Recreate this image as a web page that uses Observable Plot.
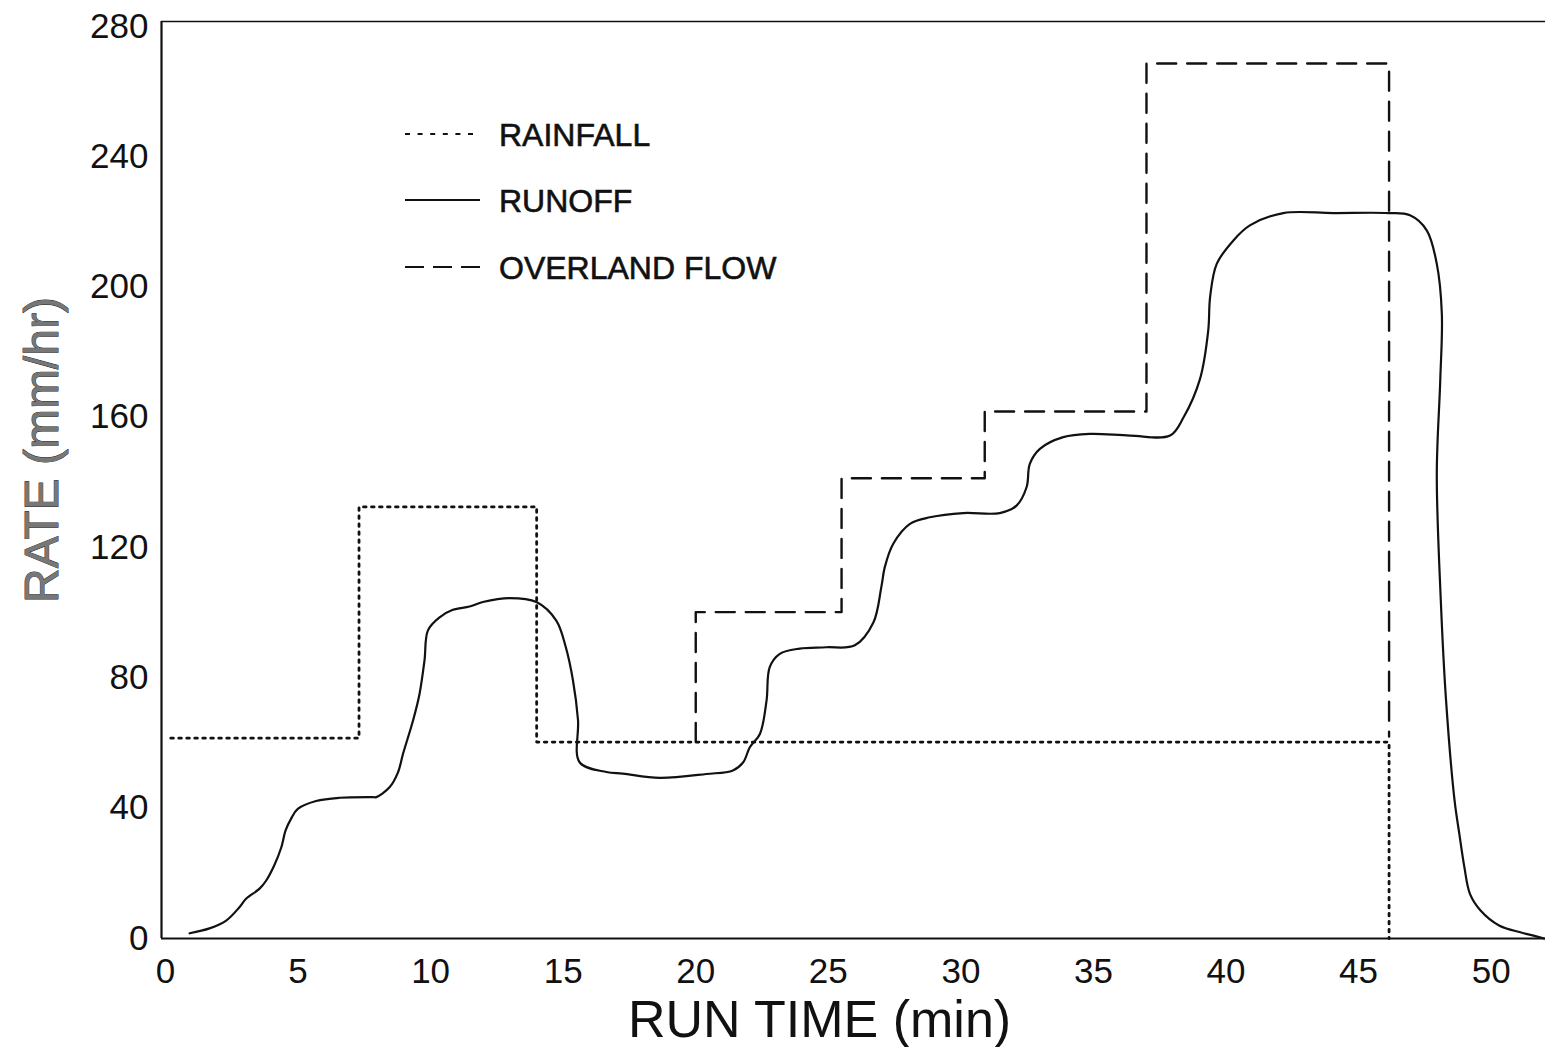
<!DOCTYPE html>
<html>
<head>
<meta charset="utf-8">
<script src="https://cdn.jsdelivr.net/npm/d3@7"></script>
<script src="https://cdn.jsdelivr.net/npm/@observablehq/plot@0.6"></script>
<style>
  html, body { margin: 0; padding: 0; background: #fff; }
  #wrap { position: relative; width: 1545px; height: 1047px; font-family: "Liberation Sans", Arial, Helvetica, sans-serif; }
  #legend { position: absolute; left: 0; top: 0; pointer-events: none; }
</style>
</head>
<body>
<div id="wrap"></div>
<script>
// ---- data ----
const xTicks = [0, 5, 10, 15, 20, 25, 30, 35, 40, 45, 50];
const yTicks = [0, 40, 80, 120, 160, 200, 240, 280];
const xDomain = [-0.15, 52.05];
const yDomain = [0, 281.5];

// Rainfall (step-after), run time in min, rate in mm/hr
const rainT    = [0.2, 7.3, 14.0, 46.15];
const rainRate = [61.5, 132.5, 60.3, 0];

// Overland flow (step-after)
const overT    = [20.0, 20.0, 25.5, 30.9, 37.0, 46.15];
const overRate = [60.3, 100.2, 141.3, 161.8, 268.6, 62.0];

// Runoff hydrograph
const runT = [0.91, 1.66, 2.29, 2.79, 3.04, 3.55, 3.8, 4.1, 4.37, 4.53, 4.74, 4.99, 5.68, 6.57, 7.82, 7.95,
  8.45, 8.77, 8.96, 9.34, 9.58, 9.77, 9.9, 10.34, 10.84, 11.47, 11.97, 12.98, 13.99, 14.74, 15.1, 15.37, 15.56, 15.62,
  16.63, 17.25, 18.64, 20.4, 21.4, 21.79, 22.04, 22.42, 22.67, 22.79, 23.17, 23.92, 24.93, 26.0, 26.7, 27.0,
  27.13, 27.45, 28.08, 28.83, 30.09, 31.47, 32.1, 32.48, 32.6, 32.98, 33.86, 34.87, 36.38, 37.89, 38.4, 39.02,
  39.33, 39.4, 39.65, 40.28, 40.9, 42.16, 44.05, 46.13, 46.94, 47.57, 47.95, 48.14, 48.08, 47.95, 48.1, 48.3,
  48.62, 48.8, 48.99, 49.2, 49.6, 50.3, 51.1, 51.6, 52.0];
const runRate = [1.6, 3.1, 5.5, 9.6, 12.2, 15.3, 17.8, 22.4, 28, 33.2, 36.8, 39.8, 42.2, 43.2, 43.4, 43.4,
  46.4, 51, 56.7, 67, 75, 85.4, 94.6, 98.6, 100.9, 101.9, 103.3, 104.5, 103.3, 97.6, 89.4, 79.2, 67, 54.1,
  51.1, 50.6, 49.3, 50.5, 51.6, 54.1, 58.7, 62.8, 73, 83.3, 87.4, 89, 89.4, 90, 97, 107.9,
  114, 121.2, 127.3, 129.3, 130.6, 130.6, 132.9, 138.6, 145.7, 150.3, 153.9, 154.9, 154.4, 154.4, 160, 171.8,
  186.7, 196.9, 207.1, 214.3, 218.9, 222.7, 222.7, 222.7, 222, 217.4, 207.1, 191.8, 171.3, 142.7, 104, 73,
  42.4, 32.1, 21.9, 13.7, 8.6, 4, 1.9, 0.9, 0];

const legendItems = ["RAINFALL", "RUNOFF", "OVERLAND FLOW"];
const xTitle = "RUN TIME (min)";
const yTitle = "RATE (mm/hr)";

// ---- build tables ----
const rain = rainT.map((t, i) => ({t, v: rainRate[i]}));
const over = overT.map((t, i) => ({t, v: overRate[i]}));
const run  = runT.map((t, i) => ({t, v: runRate[i]}));

const ink = "#111";

const chart = Plot.plot({
  width: 1545,
  height: 1047,
  marginLeft: 161,
  marginRight: 0,
  marginTop: 21,
  marginBottom: 109,
  style: {background: "#fff", fontFamily: '"Liberation Sans", Arial, Helvetica, sans-serif', color: ink},
  x: {domain: xDomain},
  y: {domain: yDomain},
  marks: [
    Plot.axisX({ticks: xTicks, tickSize: 0, tickPadding: 20, fontSize: 35, label: null, fill: ink}),
    Plot.axisY({ticks: yTicks, tickSize: 0, tickPadding: 13, fontSize: 35, label: null, fill: ink}),
    // frame: left, bottom, top
    Plot.ruleX([xDomain[0]], {stroke: ink, strokeWidth: 2.2}),
    Plot.ruleY([yDomain[0]], {stroke: ink, strokeWidth: 2.2}),
    Plot.ruleY([yDomain[1]], {stroke: ink, strokeWidth: 1.6}),
    // series
    Plot.line(rain, {x: "t", y: "v", curve: "step-after", stroke: ink, strokeWidth: 2.8, strokeDasharray: "2.6,5.4"}),
    Plot.line(over, {x: "t", y: "v", curve: "step-after", stroke: ink, strokeWidth: 2.4, strokeDasharray: "19,11"}),
    Plot.line(run, {x: "t", y: "v", curve: "catmull-rom", stroke: ink, strokeWidth: 2.2}),
    // axis titles
    Plot.text([xTitle], {frameAnchor: "bottom", dx: -34, dy: 82, text: d => d, fontSize: 52, fill: ink, lineAnchor: "middle", textAnchor: "middle"}),
    Plot.text([yTitle], {frameAnchor: "left", dx: -119, dy: -30, rotate: -90, text: d => d, fontSize: 48, fill: "#777", stroke: "#222", strokeWidth: 0.9, lineAnchor: "middle", textAnchor: "middle"})
  ]
});

const wrap = document.getElementById("wrap");
wrap.appendChild(chart);

// ---- legend overlay ----
const ns = "http://www.w3.org/2000/svg";
const leg = document.createElementNS(ns, "svg");
leg.setAttribute("id", "legend");
leg.setAttribute("width", 1545);
leg.setAttribute("height", 1047);
const dashes = ["5,7.6", null, "19,9"];
const rowY = [134, 200, 267];
legendItems.forEach((name, i) => {
  const ln = document.createElementNS(ns, "line");
  ln.setAttribute("x1", 405); ln.setAttribute("x2", 480);
  ln.setAttribute("y1", rowY[i]); ln.setAttribute("y2", rowY[i]);
  ln.setAttribute("stroke", ink);
  ln.setAttribute("stroke-width", i === 0 ? 2.2 : 1.8);
  if (dashes[i]) ln.setAttribute("stroke-dasharray", dashes[i]);
  leg.appendChild(ln);
  const tx = document.createElementNS(ns, "text");
  tx.setAttribute("x", 499);
  tx.setAttribute("y", rowY[i]);
  tx.setAttribute("dy", "0.36em");
  tx.setAttribute("font-size", 32);
  tx.setAttribute("fill", ink);
  tx.setAttribute("stroke", ink);
  tx.setAttribute("stroke-width", 0.6);
  tx.setAttribute("font-family", '"Liberation Sans", Arial, sans-serif');
  tx.textContent = name;
  leg.appendChild(tx);
});
wrap.appendChild(leg);
</script>
</body>
</html>
